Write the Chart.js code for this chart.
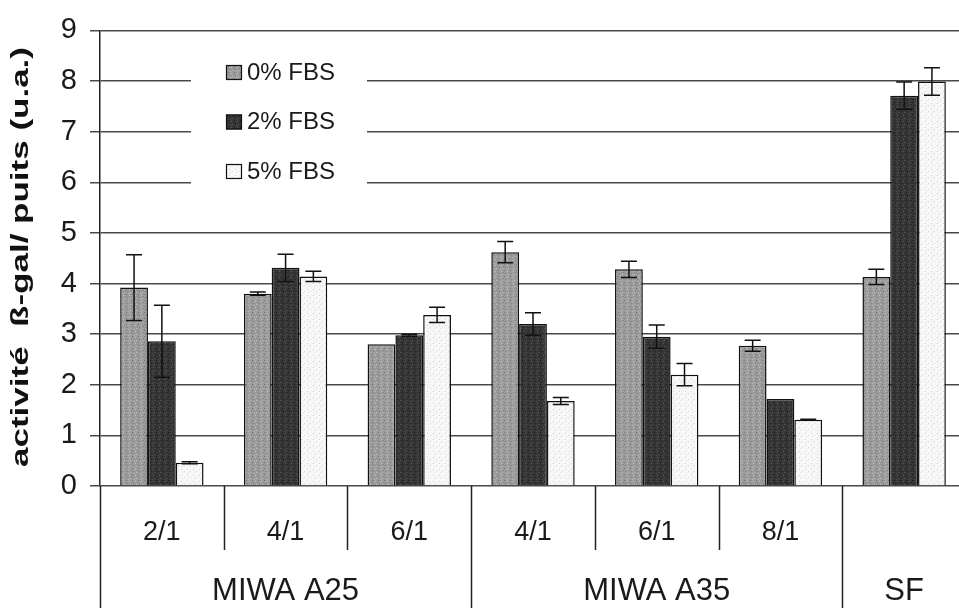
<!DOCTYPE html>
<html>
<head>
<meta charset="utf-8">
<script src="https://cdn.jsdelivr.net/npm/chart.js@4.4.1/dist/chart.umd.min.js"></script>
<style>
  html, body { margin: 0; padding: 0; background: #ffffff; overflow: hidden; }
  #wrap { width: 959px; height: 608px; overflow: hidden; }
  canvas { display: block; }
</style>
</head>
<body>
<div id="wrap"><canvas id="c" width="966" height="608"></canvas></div>
<script>
// ---------- data ----------
const categories = ['2/1', '4/1', '6/1', '4/1', '6/1', '8/1', ''];
const groupLabels = ['MIWA A25', 'MIWA A35', 'SF'];
const groupSpans = [3, 3, 1];
const seriesNames = ['0% FBS', '2% FBS', '5% FBS'];
const fbs0 = [3.92, 3.80, 2.80, 4.62, 4.28, 2.77, 4.13];
const fbs2 = [2.86, 4.31, 2.98, 3.20, 2.95, 1.72, 7.71];
const fbs5 = [0.46, 4.14, 3.38, 1.68, 2.20, 1.31, 7.99];
const err0 = [0.65, 0.03, 0.00, 0.21, 0.16, 0.11, 0.15];
const err2 = [0.71, 0.27, 0.02, 0.22, 0.23, 0.00, 0.27];
const err5 = [0.02, 0.10, 0.15, 0.07, 0.22, 0.01, 0.27];
const yMin = 0, yMax = 9, yStep = 1;
const yTitle = 'activité  ß-gal/ puits (u.a.)';

const FONT = '"Liberation Sans", Arial, Helvetica, sans-serif';

// ---------- texture patterns (styling only) ----------
function makePattern(base, dots) {
  const c = document.createElement('canvas');
  c.width = 6; c.height = 6;
  const x = c.getContext('2d');
  x.fillStyle = base; x.fillRect(0, 0, 6, 6);
  dots.forEach(d => { x.fillStyle = d[2]; x.fillRect(d[0], d[1], 1, 1); });
  return x.createPattern(c, 'repeat');
}
const pat0 = makePattern('#9c9c9c', [[0,0,'#737373'],[3,1,'#c0c0c0'],[1,3,'#7e7e7e'],[4,4,'#b8b8b8'],[5,2,'#828282'],[2,5,'#bcbcbc']]);
const pat2 = makePattern('#363636', [[0,0,'#181818'],[3,1,'#585858'],[1,3,'#1f1f1f'],[4,4,'#525252'],[5,2,'#232323'],[2,5,'#4d4d4d']]);
const pat5 = makePattern('#f7f7f7', [[1,1,'#cfcfcf'],[4,3,'#d8d8d8'],[2,4,'#e0e0e0']]);
const fills = [pat0, pat2, pat5];
const errs = [err0, err2, err5];

// ---------- plugin: error bars, separators, group labels, legend, y title ----------
const decor = {
  id: 'decor',
  afterDatasetsDraw(chart) {
    const c = chart.ctx, ys = chart.scales.y;
    c.save();
    c.strokeStyle = '#111';
    c.lineWidth = 1.5;
    chart.data.datasets.forEach((ds, di) => {
      const meta = chart.getDatasetMeta(di);
      meta.data.forEach((el, i) => {
        const e = errs[di][i];
        if (!e) return;
        const v = ds.data[i];
        const yt = ys.getPixelForValue(v + e), yb = ys.getPixelForValue(v - e);
        const x = el.x, cw = 8;
        c.beginPath();
        c.moveTo(x, yt); c.lineTo(x, yb);
        c.moveTo(x - cw, yt); c.lineTo(x + cw, yt);
        c.moveTo(x - cw, yb); c.lineTo(x + cw, yb);
        c.stroke();
      });
    });
    c.restore();
  },
  afterDraw(chart) {
    const c = chart.ctx, xs = chart.scales.x, area = chart.chartArea;
    const n = categories.length;
    const catW = (xs.getPixelForValue(n - 1) - xs.getPixelForValue(0)) / (n - 1);
    const bx = i => xs.getPixelForValue(0) - catW / 2 + i * catW;
    const full = new Set([0]);
    let acc = 0;
    groupSpans.forEach(s => { acc += s; full.add(acc); });
    c.save();
    c.strokeStyle = '#222';
    c.lineWidth = 1.5;
    for (let i = 0; i <= n; i++) {
      const x = Math.round(bx(i)) + 0.5;
      c.beginPath();
      c.moveTo(x, area.bottom);
      c.lineTo(x, full.has(i) ? chart.height : area.bottom + 64);
      c.stroke();
    }
    // group labels
    c.fillStyle = '#1a1a1a';
    c.font = '31px ' + FONT;
    c.textAlign = 'center';
    c.textBaseline = 'middle';
    acc = 0;
    groupLabels.forEach((g, gi) => {
      const x0 = bx(acc), x1 = bx(acc + groupSpans[gi]);
      c.fillText(g, (x0 + x1) / 2, 591);
      acc += groupSpans[gi];
    });
    // legend (inside plot, covering grid)
    c.fillStyle = '#ffffff';
    c.fillRect(191, 50, 176, 152);
    c.font = '24px ' + FONT;
    c.textAlign = 'left';
    c.textBaseline = 'middle';
    seriesNames.forEach((s, i) => {
      const yc = 72 + i * 49.5;
      c.fillStyle = fills[i];
      c.fillRect(226, yc - 7, 16, 15);
      c.strokeStyle = '#111';
      c.lineWidth = 1.2;
      c.strokeRect(226.5, yc - 6.5, 15, 14);
      c.fillStyle = '#1a1a1a';
      c.fillText(s, 247, yc + 1);
    });
    // y axis title (stretched along its length like the original)
    c.save();
    c.translate(28, 257);
    c.rotate(-Math.PI / 2);
    c.font = 'bold 23px ' + FONT;
    const w = c.measureText(yTitle).width;
    c.scale(420 / w, 1);
    c.textAlign = 'center';
    c.textBaseline = 'alphabetic';
    c.fillStyle = '#111';
    c.fillText(yTitle, 0, 0);
    c.restore();
    c.restore();
  }
};

new Chart(document.getElementById('c'), {
  type: 'bar',
  data: {
    labels: categories,
    datasets: seriesNames.map((name, i) => ({
      label: name,
      data: [fbs0, fbs2, fbs5][i],
      backgroundColor: fills[i],
      borderColor: '#111',
      borderWidth: 1.5,
      categoryPercentage: 0.674,
      barPercentage: 1.0
    }))
  },
  options: {
    responsive: false,
    animation: false,
    devicePixelRatio: 1,
    layout: { padding: { top: 28, left: 0, right: 0, bottom: 0 } },
    plugins: { legend: { display: false }, tooltip: { enabled: false }, title: { display: false } },
    scales: {
      x: {
        grid: { display: false, drawTicks: false },
        border: { display: false },
        ticks: { font: { family: FONT, size: 27 }, color: '#1a1a1a', padding: 30, maxRotation: 0, autoSkip: false },
        afterFit(s) { s.height = 122; }
      },
      y: {
        min: yMin, max: yMax,
        grid: { color: '#4a4a4a', lineWidth: 1.5, tickLength: 10 },
        border: { color: '#222', width: 1.5 },
        ticks: { stepSize: yStep, font: { family: FONT, size: 29 }, color: '#1a1a1a', padding: 13 },
        afterFit(s) { s.width = 100; }
      }
    }
  },
  plugins: [decor]
});
</script>
</body>
</html>
